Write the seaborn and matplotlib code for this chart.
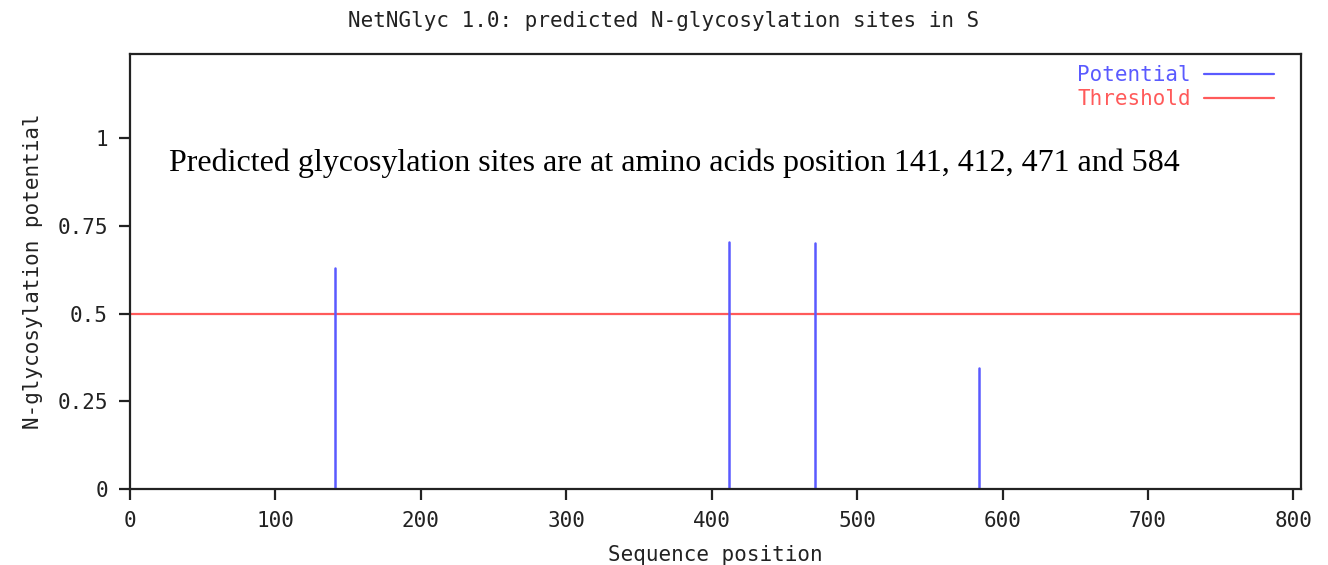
import matplotlib
matplotlib.use("Agg")
import matplotlib.pyplot as plt
from matplotlib.lines import Line2D
import numpy as np
import pandas as pd
import seaborn as sns

# N-glycosylation predictions (NetNGlyc 1.0)
site_positions = [141, 412, 471, 584]
site_potential = [0.631, 0.705, 0.700, 0.346]
threshold = 0.5
x_ticks = [0, 100, 200, 300, 400, 500, 600, 700, 800]
y_ticks = [0, 0.25, 0.5, 0.75, 1]
y_tick_labels = ["0", "0.25", "0.5", "0.75", "1"]

BLUE = "#5a5aff"
RED = "#ff5a5a"
MONO = "DejaVu Sans Mono"
FS = 15

sns.set_style("ticks")
plt.rcParams["font.family"] = ["DejaVu Sans Mono", "DejaVu Sans"]

fig = plt.figure(figsize=(13.28, 5.65), dpi=100)
ax = fig.add_axes([0.0979, 0.1345, 0.9794 - 0.0979, 0.9044 - 0.1345])

# each site drawn as a vertical stick from 0 up to its potential
rows = []
for pos, val in zip(site_positions, site_potential):
    rows.append({"position": pos, "potential": 0.0, "site": pos})
    rows.append({"position": pos, "potential": val, "site": pos})
sticks = pd.DataFrame(rows)
sns.lineplot(data=sticks, x="position", y="potential", units="site",
             estimator=None, sort=False, color=BLUE, linewidth=1.8, ax=ax)

ax.axhline(threshold, color=RED, linewidth=1.6, zorder=1)

ax.set_xlim(0, 805)
ax.set_ylim(0, 1.24)
ax.set_xticks(x_ticks)
ax.set_xticklabels([str(t) for t in x_ticks])
ax.set_yticks(y_ticks)
ax.set_yticklabels(y_tick_labels)

for side in ["left", "bottom", "top", "right"]:
    ax.spines[side].set_visible(True)
    ax.spines[side].set_linewidth(1.6)
    ax.spines[side].set_color("#222222")
ax.tick_params(axis="both", direction="out", length=8, width=1.6,
               color="#222222", labelsize=FS, pad=8, labelcolor="#222222")

ax.set_xlabel("Sequence position", fontsize=FS, family=MONO, labelpad=10,
              color="#222222")
ax.set_ylabel("N-glycosylation potential", fontsize=FS, family=MONO,
              labelpad=10, color="#222222")
fig.suptitle("NetNGlyc 1.0: predicted N-glycosylation sites in S",
             fontsize=FS, family=MONO, y=0.98, color="#222222")

ax.text(27, 0.93, "Predicted glycosylation sites are at amino acids position "
        "141, 412, 471 and 584", family="Liberation Serif", fontsize=23,
        va="center", ha="left", color="black")

handles = [Line2D([], [], color=BLUE, linewidth=1.6, label="Potential"),
           Line2D([], [], color=RED, linewidth=1.6, label="Threshold")]
ax.legend(handles=handles, loc="upper right", frameon=False,
          markerfirst=False, labelcolor="linecolor",
          prop={"family": MONO, "size": FS}, handlelength=3.4,
          handletextpad=0.6, labelspacing=0.2, borderaxespad=0.3,
          bbox_to_anchor=(0.99, 1.008))

fig.savefig("out.png", dpi=100, facecolor="white")
